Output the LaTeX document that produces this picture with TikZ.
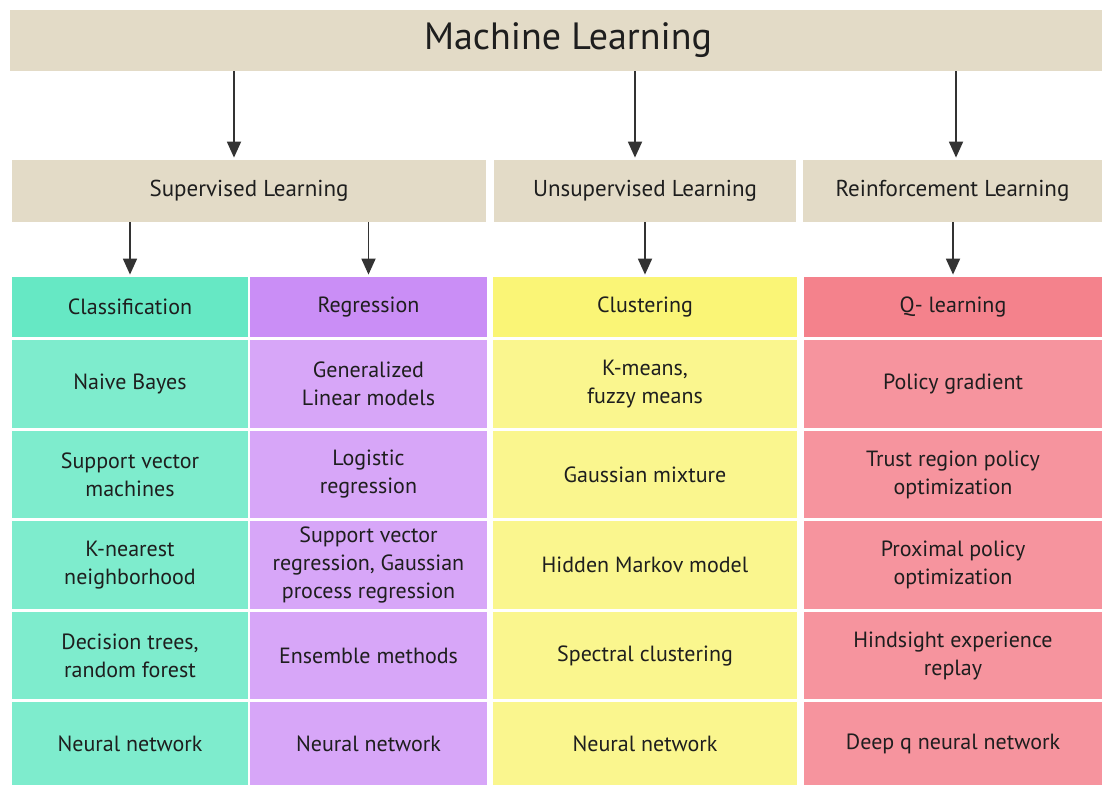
\documentclass[tikz,border=0pt]{standalone}
\usepackage{fontspec}
\setmainfont{PT Sans}
\usetikzlibrary{arrows.meta}
\definecolor{cSand}{RGB}{227,219,199}
\definecolor{cTealH}{RGB}{102,232,196}
\definecolor{cTeal}{RGB}{126,236,205}
\definecolor{cLilacH}{RGB}{202,142,246}
\definecolor{cLilac}{RGB}{215,166,248}
\definecolor{cLemonH}{RGB}{250,245,118}
\definecolor{cLemon}{RGB}{250,246,142}
\definecolor{cRoseH}{RGB}{244,130,140}
\definecolor{cRose}{RGB}{246,148,158}
\definecolor{cInk}{RGB}{30,30,30}
\tikzset{
  bar/.style={fill=cSand, inner sep=0pt, text=cInk, font=\fontsize{11.5}{14}\selectfont},
  cell/.style={inner sep=0pt, text=cInk, align=center, font=\fontsize{11}{14}\selectfont},
  arr/.style={-{Triangle[length=8pt,width=7pt]}, line width=0.9pt, draw=black!80, shorten >=1pt}
}

\begin{document}
\begin{tikzpicture}[x=0.5pt,y=-0.5pt]
        \useasboundingbox[fill=white] (0,0) rectangle (1102,785);

        % top bar and the three families
        \node[bar, minimum width=558pt, minimum height=30.5pt, font=\fontsize{19}{22}\selectfont] (ml) at (568,40.5) {Machine Learning};
        \node[bar, minimum width=237pt, minimum height=31pt] (sup) at (249,191) {Supervised Learning};
        \node[bar, minimum width=151pt, minimum height=31pt] (uns) at (645,191) {Unsupervised Learning};
        \node[bar, minimum width=149.5pt, minimum height=31pt] (rei) at (952.5,191) {Reinforcement Learning};

        \coordinate (a1) at (234,0);
        \coordinate (a2) at (635,0);
        \coordinate (a3) at (956,0);
        \draw[arr] (ml.south -| a1) -- (sup.north -| a1);
        \draw[arr] (ml.south -| a2) -- (uns.north -| a2);
        \draw[arr] (ml.south -| a3) -- (rei.north -| a3);

        % classification
        \node[cell, fill=cTealH, minimum width=118pt, minimum height=30pt] (cls) at (130,307) {Classification};
        \node[cell, fill=cTeal, minimum width=118pt, minimum height=44pt] (cls1) at (130,384) {Naive Bayes};
        \node[cell, fill=cTeal, minimum width=118pt, minimum height=43.5pt] (cls2) at (130,474.5) {Support vector\\machines};
        \node[cell, fill=cTeal, minimum width=118pt, minimum height=44pt] (cls3) at (130,565) {K-nearest\\neighborhood};
        \node[cell, fill=cTeal, minimum width=118pt, minimum height=43.5pt] (cls4) at (130,655.5) {Decision trees,\\random forest};
        \node[cell, fill=cTeal, minimum width=118pt, minimum height=41.5pt] (cls5) at (130,743.5) {Neural network};

        % regression
        \node[cell, fill=cLilacH, minimum width=118.5pt, minimum height=30pt] (reg) at (368.5,307) {Regression};
        \node[cell, fill=cLilac, minimum width=118.5pt, minimum height=44pt] (reg1) at (368.5,384) {Generalized\\Linear models};
        \node[cell, fill=cLilac, minimum width=118.5pt, minimum height=43.5pt] (reg2) at (368.5,474.5) {Logistic\\regression};
        \node[cell, fill=cLilac, minimum width=118.5pt, minimum height=44pt] (reg3) at (368.5,565) {Support vector\\regression, Gaussian\\process regression};
        \node[cell, fill=cLilac, minimum width=118.5pt, minimum height=43.5pt] (reg4) at (368.5,655.5) {Ensemble methods};
        \node[cell, fill=cLilac, minimum width=118.5pt, minimum height=41.5pt] (reg5) at (368.5,743.5) {Neural network};

        % clustering
        \node[cell, fill=cLemonH, minimum width=152pt, minimum height=30pt] (clu) at (645,307) {Clustering};
        \node[cell, fill=cLemon, minimum width=152pt, minimum height=44pt] (clu1) at (645,384) {K-means,\\fuzzy means};
        \node[cell, fill=cLemon, minimum width=152pt, minimum height=43.5pt] (clu2) at (645,474.5) {Gaussian mixture};
        \node[cell, fill=cLemon, minimum width=152pt, minimum height=44pt] (clu3) at (645,565) {Hidden Markov model};
        \node[cell, fill=cLemon, minimum width=152pt, minimum height=43.5pt] (clu4) at (645,655.5) {Spectral clustering};
        \node[cell, fill=cLemon, minimum width=152pt, minimum height=41.5pt] (clu5) at (645,743.5) {Neural network};

        % q-learning
        \node[cell, fill=cRoseH, minimum width=149pt, minimum height=30pt] (ql) at (953,307) {Q- learning};
        \node[cell, fill=cRose, minimum width=149pt, minimum height=44pt] (ql1) at (953,384) {Policy gradient};
        \node[cell, fill=cRose, minimum width=149pt, minimum height=43.5pt] (ql2) at (953,474.5) {Trust region policy\\optimization};
        \node[cell, fill=cRose, minimum width=149pt, minimum height=44pt] (ql3) at (953,565) {Proximal policy\\optimization};
        \node[cell, fill=cRose, minimum width=149pt, minimum height=43.5pt] (ql4) at (953,655.5) {Hindsight experience\\replay};
        \node[cell, fill=cRose, minimum width=149pt, minimum height=41.5pt] (ql5) at (953,743.5) {Deep q neural network};

        \draw[arr] (sup.south -| cls.north) -- (cls.north);
        \draw[arr] (sup.south -| reg.north) -- (reg.north);
        \draw[arr] (uns.south -| clu.north) -- (clu.north);
        \draw[arr] (rei.south -| ql.north) -- (ql.north);
    \end{tikzpicture}
\end{document}
